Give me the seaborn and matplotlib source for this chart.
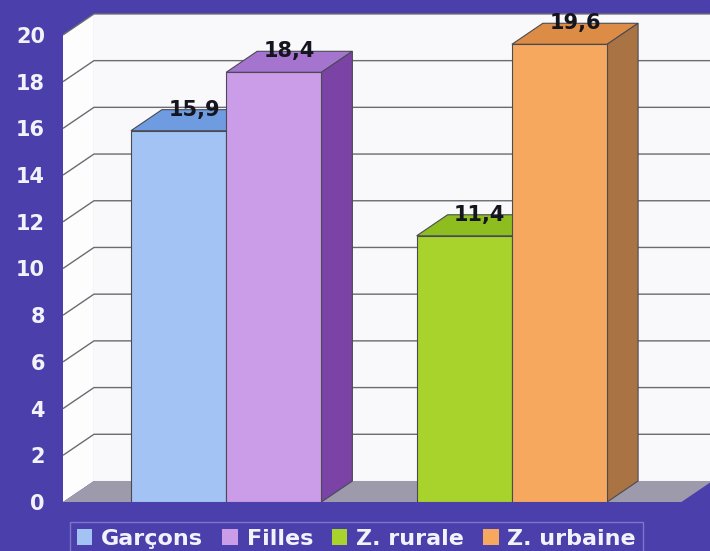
"""3D-look bar chart (Garçons / Filles / zones) with seaborn + matplotlib"""
import matplotlib.pyplot as plt
from matplotlib.patches import Polygon, Patch
import pandas as pd
import seaborn as sns

categories = ['Garçons', 'Filles', 'Z. rurale', 'Z. urbaine']
values = [15.9, 18.4, 11.4, 19.6]
labels = ['15,9', '18,4', '11,4', '19,6']
yticks = list(range(0, 21, 2))

front_colors = ['#a2c3f4', '#cb9ce8', '#a8d22c', '#f6a95e']
top_colors = ['#6f9be0', '#a574cf', '#8dbd1f', '#dc8c45']
side_colors = ['#5a82c4', '#7b43a6', '#6f9a16', '#a97343']
bg = '#4a3fab'


def main():
    df = pd.DataFrame({'cat': categories, 'val': values})
    order = categories[:2] + [' '] + categories[2:]   # blank slot between the two groups

    fig = plt.figure(figsize=(7.1, 5.51), dpi=100, facecolor=bg)
    ax = fig.add_axes([63 / 710, 49 / 551, 647 / 710, 490.4 / 551])
    ax.set_facecolor(bg)

    sns.barplot(data=df, x='cat', y='val', order=order, hue='cat', hue_order=categories,
                palette=dict(zip(categories, front_colors)), width=1.0, saturation=1,
                legend=False, edgecolor='#4a4a55', linewidth=0.8, ax=ax)

    # 3D depth offsets (data units)
    dx, dy = 0.325, 0.9
    xl, xr = -1.2135, 5.58
    ax.set_xlim(xl, xr)
    ax.set_ylim(0, 21)

    # walls + floor
    wall = '#f9f9fb'
    ax.add_patch(Polygon([(xl + dx, dy), (xr, dy), (xr, 20 + dy), (xl + dx, 20 + dy)],
                         closed=True, fc=wall, ec='none', zorder=0.5))
    ax.add_patch(Polygon([(xl, 0), (xl + dx, dy), (xl + dx, 20 + dy), (xl, 20)],
                         closed=True, fc='#fdfdfe', ec='none', zorder=0.6))
    floor_r = 5.28
    ax.add_patch(Polygon([(xl, 0), (floor_r, 0), (floor_r + dx, dy), (xl + dx, dy)],
                         closed=True, fc='#9d9bab', ec='none', zorder=0.7))
    for y in yticks[1:]:
        ax.plot([xl, xl + dx, xr], [y, y + dy, y + dy], color='#6b6b70', lw=1.0,
                zorder=0.8, solid_capstyle='butt')

    bars = [p for p in ax.patches if isinstance(p, plt.Rectangle) and p.get_height() > 0]
    bars.sort(key=lambda p: p.get_x())
    for i, (bar, lab) in enumerate(zip(bars, labels)):
        x0 = bar.get_x()
        x1 = x0 + bar.get_width()
        h = bar.get_height()
        z = 3 + i * 0.1
        bar.set_zorder(z + 0.05)
        ax.add_patch(Polygon([(x0, h), (x1, h), (x1 + dx, h + dy), (x0 + dx, h + dy)],
                             closed=True, fc=top_colors[i], ec='#4a4a55', lw=0.8, zorder=z))
        ax.add_patch(Polygon([(x1, 0), (x1 + dx, dy), (x1 + dx, h + dy), (x1, h)],
                             closed=True, fc=side_colors[i], ec='#4a4a55', lw=0.8, zorder=z))
        ax.text((x0 + x1) / 2 + dx / 2, h + dy, lab, ha='center', va='center',
                fontsize=15, fontweight='bold', color='#15151f', zorder=10)

    ax.set_xlabel('')
    ax.set_ylabel('')
    ax.set_xticks([])
    ax.set_yticks(yticks)
    ax.set_yticklabels([str(t) for t in yticks], color='#f2f2fa', fontsize=15, fontweight='bold')
    ax.tick_params(axis='y', length=0, pad=13)
    for s in ax.spines.values():
        s.set_visible(False)

    handles = [Patch(facecolor=c, edgecolor='none', label=n) for c, n in zip(front_colors, categories)]
    leg = fig.legend(handles=handles, loc='lower center', bbox_to_anchor=(0.502, -0.028), ncol=4,
                     frameon=True, fancybox=False, facecolor=bg, edgecolor='#8b84d2',
                     handlelength=0.7, handleheight=0.7, handletextpad=0.4,
                     columnspacing=0.85, borderpad=0.3, prop={'weight': 'bold', 'size': 16})
    for t in leg.get_texts():
        t.set_color('#f2f2fa')

    fig.savefig('out.png', dpi=100, facecolor=bg)


if __name__ == '__main__':
    main()
